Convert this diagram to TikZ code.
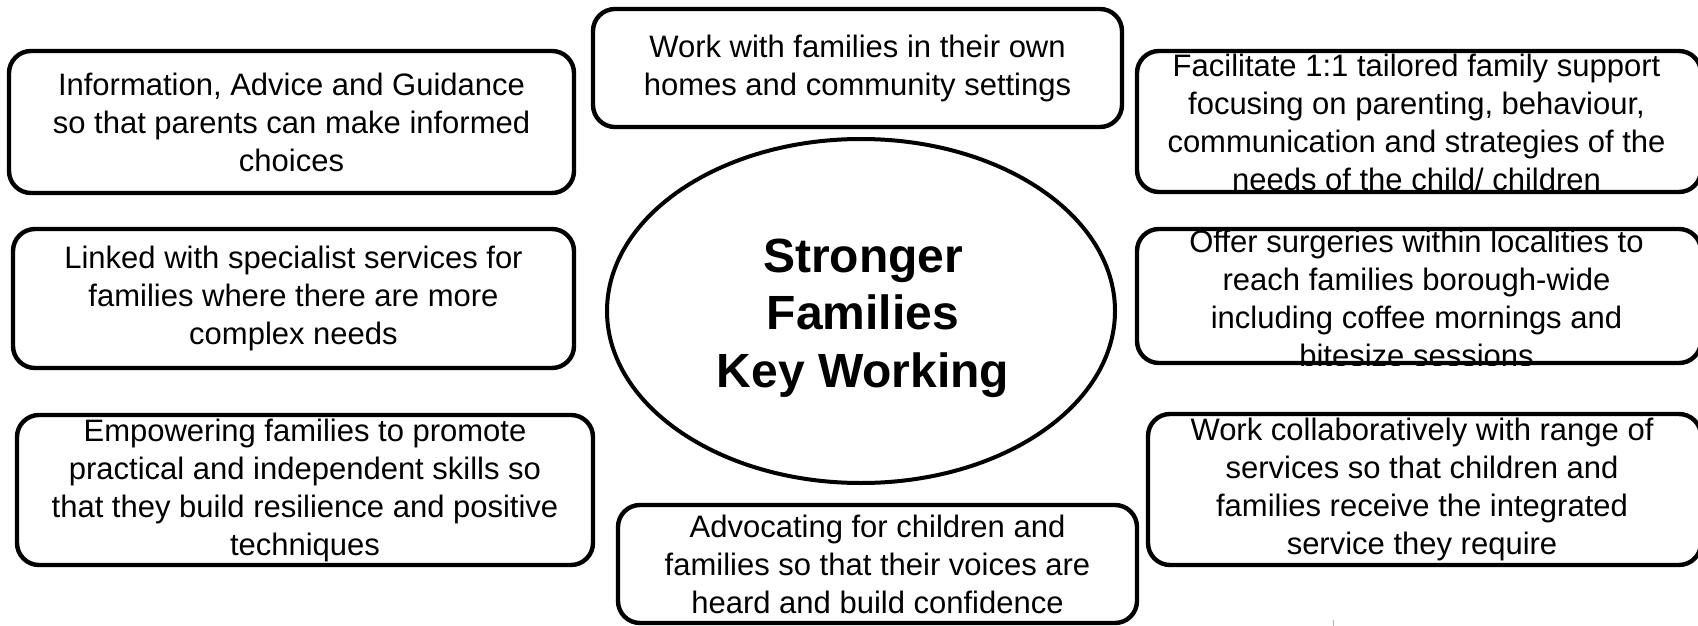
\documentclass[tikz,border=0pt]{standalone}
\usepackage{fontspec}
\setmainfont{Liberation Sans}
\usetikzlibrary{shapes.geometric}

\begin{document}
\begin{tikzpicture}[x=0.5pt,y=-0.5pt,
card/.style={%
draw,
line width=2.2pt,
rounded corners=11pt,
inner sep=0pt,
align=center,
font=\fontsize{15.5}{19}\selectfont
},
cardtext/.style={%
align=center,
inner sep=0pt,
font=\fontsize{15.5}{19}\selectfont
},
hub/.style={%
ellipse,
draw,
line width=2pt,
inner sep=0pt,
align=center,
font=\bfseries\fontsize{24}{28.75}\selectfont
},
]
\useasboundingbox (0,0) rectangle (1698,626);
%% Centre
\node[hub,minimum width=254pt,minimum height=172pt](hub)at(861,311){};
\node[align=center,font=\bfseries\fontsize{24}{28.75}\selectfont](hubtext)at(863,318){Stronger\\Families\\Key Working};
%% Left column
\node[card,minimum width=282.5pt,minimum height=71pt](info)at(291.5,122){Information, Advice and Guidance\\so that parents can make informed\\choices};
\node[card,minimum width=280.5pt,minimum height=69.5pt](linked)at(293.5,298.5){Linked with specialist services for\\families where there are more\\complex needs};
\node[card,minimum width=288pt,minimum height=75pt](empower)at(305,490){Empowering families to promote\\practical and independent skills so\\that they build resilience and positive\\techniques};
%% Middle
\node[card,minimum width=264.5pt,minimum height=59pt](homes)at(857.5,68){Work with families in their own\\homes and community settings};
\node[card,minimum width=259.5pt,minimum height=59pt](advocate)at(877.5,564){Advocating for children and\\families so that their voices are\\heard and build confidence};
%% Right column
\node[card,minimum width=282pt,minimum height=70.5pt](tailored)at(1419,121.5){};
\node[card,minimum width=282pt,minimum height=67pt](surgery)at(1419,296){};
\node[card,minimum width=276.5pt,minimum height=75.5pt](collab)at(1424.5,489.5){};
\node[cardtext](collabtext)at(1422,489.5){Work collaboratively with range of\\services so that children and\\families receive the integrated\\service they require};
\begin{scope}
\clip[rounded corners=11pt](tailored.south west)rectangle(tailored.north east);
\node[cardtext](tailoredtext)at(1416.5,122){Facilitate 1:1 tailored family support\\focusing on parenting, behaviour,\\communication and strategies of the\\needs of the child/ children};
\end{scope}
\begin{scope}
\clip[rounded corners=11pt](surgery.south west)rectangle(surgery.north east);
\node[cardtext](surgerytext)at(1416.5,298){Offer surgeries within localities to\\reach families borough-wide\\including coffee mornings and\\bitesize sessions};
\end{scope}
\draw[gray!60](1333,620)--(1333,626);
\end{tikzpicture}
\end{document}
